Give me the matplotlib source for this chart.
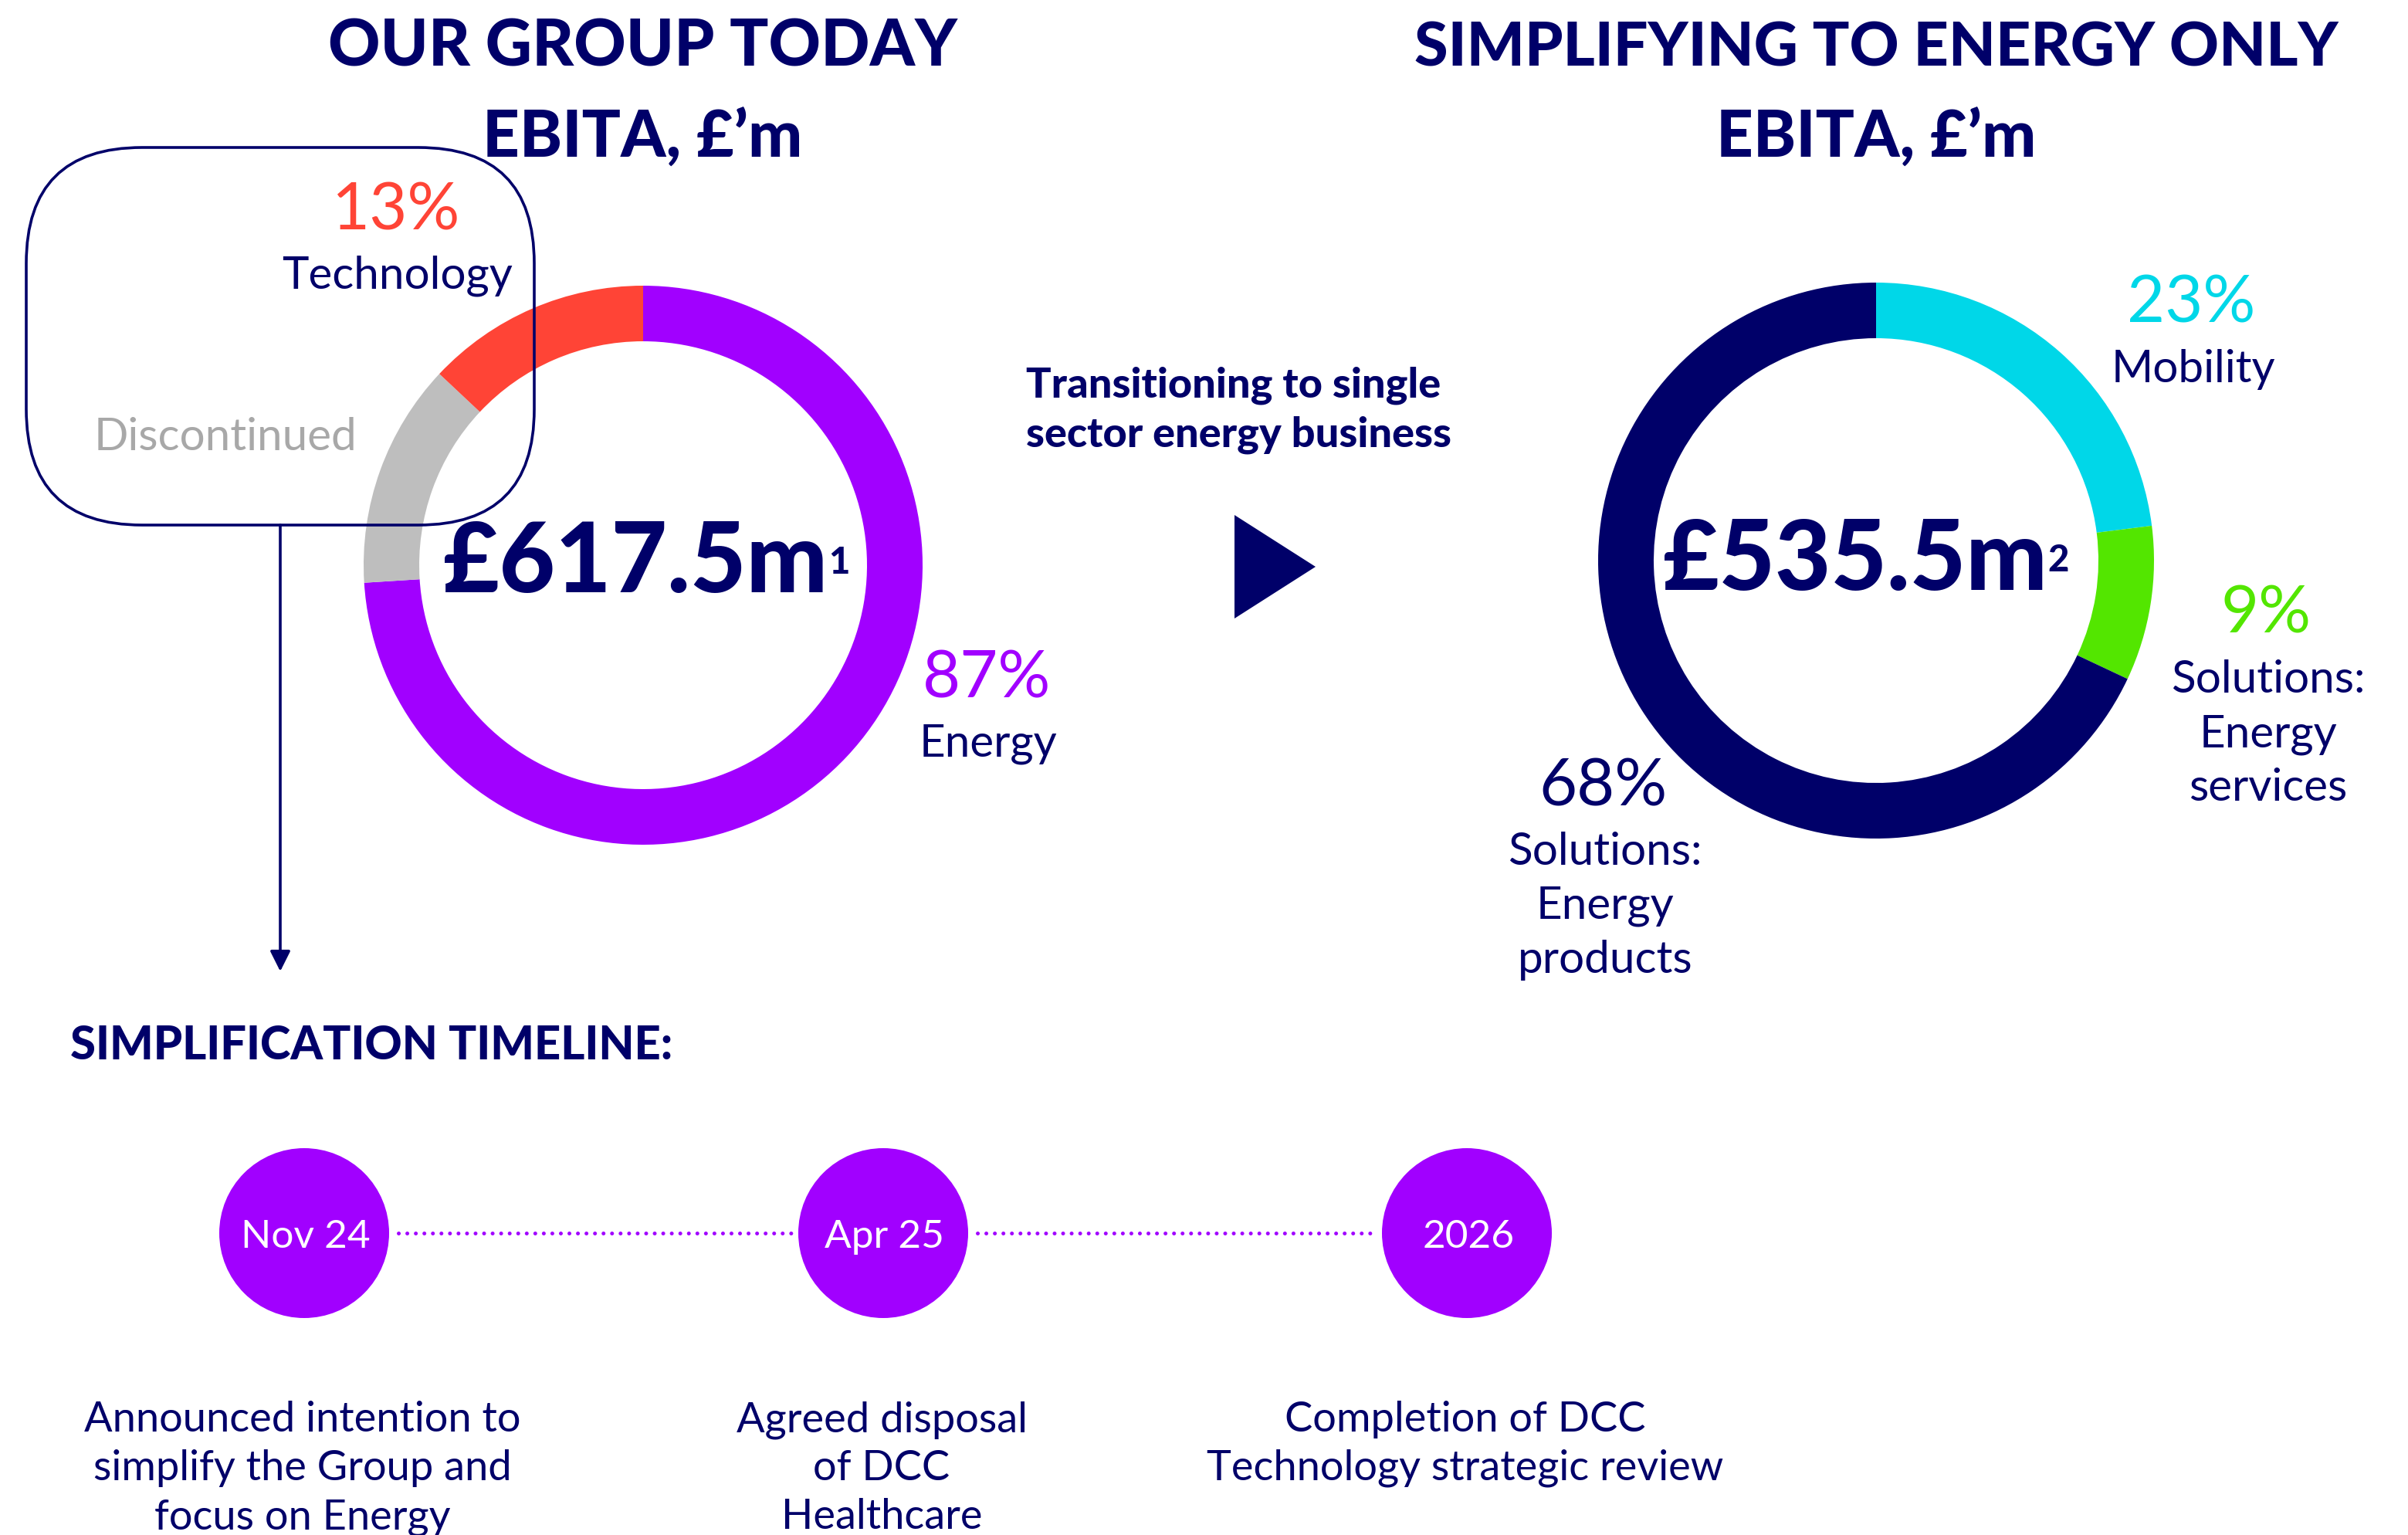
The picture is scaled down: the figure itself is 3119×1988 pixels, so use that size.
import matplotlib.pyplot as plt
from matplotlib.patches import FancyBboxPatch, Polygon, Circle

W, H = 3119, 1988

NAVY = '#000069'
PURPLE = '#A100FF'
RED = '#FF4436'
GREY = '#BEBEBE'
GREY_TXT = '#A8A8A8'
CYAN = '#00D7E8'
GREEN = '#53E600'

# left donut: current group (ring shares)
group_segments = ['Energy', 'Discontinued', 'Technology']
group_share = [74, 13, 13]
group_colors = [PURPLE, GREY, RED]
group_total = '£617.5m'

# right donut: energy only
energy_segments = ['Mobility', 'Solutions: Energy services', 'Solutions: Energy products']
energy_share = [23, 9, 68]
energy_colors = [CYAN, GREEN, NAVY]
energy_total = '£535.5m'

# timeline
timeline_dates = ['Nov 24', 'Apr 25', '2026']
timeline_text = [
    ['Announced intention to', 'simplify the Group and', 'focus on Energy'],
    ['Agreed disposal', 'of DCC', 'Healthcare'],
    ['Completion of DCC', 'Technology strategic review'],
]

plt.rcParams['font.family'] = ['Lato', 'DejaVu Sans']

fig = plt.figure(figsize=(W / 100, H / 100), dpi=100)
ax = fig.add_axes([0, 0, 1, 1])

# donuts (y axis is inverted below, so counterclock=True runs clockwise on screen)
ax.pie(group_share, colors=group_colors, startangle=-90, counterclock=True,
       radius=362, center=(833, 732), wedgeprops=dict(width=72, linewidth=0))
ax.pie(energy_share, colors=energy_colors, startangle=-90, counterclock=True,
       radius=360, center=(2430, 726), wedgeprops=dict(width=72, linewidth=0))

ax.set_xlim(0, W)
ax.set_ylim(H, 0)
ax.set_aspect('equal')
ax.axis('off')

# titles
ax.text(832, 85, 'OUR GROUP TODAY', ha='center', va='baseline', fontsize=60,
        fontweight='black', color=NAVY)
ax.text(2430, 85, 'SIMPLIFYING TO ENERGY ONLY', ha='center', va='baseline', fontsize=57,
        fontweight='black', color=NAVY)
for x in [832, 2430]:
    ax.text(x, 203, 'EBITA, £’m', ha='center', va='baseline', fontsize=60, fontweight='black', color=NAVY)

# rounded box round discontinued + arrow down to timeline
box = FancyBboxPatch((34, 191), 658, 489, boxstyle='round,pad=0,rounding_size=150',
                     fill=False, edgecolor=NAVY, linewidth=2.6)
ax.add_patch(box)
ax.annotate('', xy=(363, 1258), xytext=(363, 680),
            arrowprops=dict(arrowstyle='-|>,head_length=0.8,head_width=0.4', color=NAVY,
                            lw=2.6, mutation_scale=20, shrinkA=0, shrinkB=0))

# segment labels, left
ax.text(512, 297, '13%', ha='center', va='baseline', fontsize=61, color=RED)
ax.text(515, 373, group_segments[2], ha='center', va='baseline', fontsize=42, color=NAVY)
ax.text(292, 583, group_segments[1], ha='center', va='baseline', fontsize=42, color=GREY_TXT)
ax.text(1278, 903, '87%', ha='center', va='baseline', fontsize=61, color=PURPLE)
ax.text(1280, 980, group_segments[0], ha='center', va='baseline', fontsize=42, color=NAVY)

# segment labels, right
ax.text(2838, 418, '23%', ha='center', va='baseline', fontsize=61, color=CYAN)
ax.text(2841, 495, 'Mobility', ha='center', va='baseline', fontsize=42, color=NAVY)
ax.text(2935, 820, '9%', ha='center', va='baseline', fontsize=61, color=GREEN)
for i, line in enumerate(['Solutions:', 'Energy', 'services']):
    ax.text(2938, 897 + 70 * i, line, ha='center', va='baseline', fontsize=42, color=NAVY)
ax.text(2077, 1043, '68%', ha='center', va='baseline', fontsize=61, color=NAVY)
for i, line in enumerate(['Solutions:', 'Energy', 'products']):
    ax.text(2079, 1120 + 70 * i, line, ha='center', va='baseline', fontsize=42, color=NAVY)

# totals with footnote marks
renderer = fig.canvas.get_renderer()
inv = ax.transData.inverted()
for cx, base, total, note in [(823, 767, group_total, '1'), (2403, 764, energy_total, '2')]:
    t = ax.text(cx, base, total, ha='center', va='baseline', fontsize=90,
                fontweight='black', color=NAVY)
    bb = t.get_window_extent(renderer=renderer)
    x_right = inv.transform((bb.x1, bb.y0))[0]
    ax.text(x_right + 1, base - 24, note, ha='left', va='baseline', fontsize=34,
            fontweight='black', color=NAVY)

# middle message and arrow
ax.text(1329, 515, 'Transitioning to single', ha='left', va='baseline', fontsize=39,
        fontweight='black', color=NAVY)
ax.text(1329, 578, 'sector energy business', ha='left', va='baseline', fontsize=39,
        fontweight='black', color=NAVY)
ax.add_patch(Polygon([(1599, 667), (1599, 801), (1704, 734)], closed=True,
                     facecolor=NAVY, edgecolor='none'))

# timeline
ax.text(91, 1372, 'SIMPLIFICATION TIMELINE:', ha='left', va='baseline', fontsize=43,
        fontweight='black', color=NAVY)
tl_x = [394, 1144, 1900]
tl_y = 1597
r = 110
for a, b in zip(tl_x[:-1], tl_x[1:]):
    ax.plot([a + r + 12, b - r - 8], [tl_y, tl_y], color=PURPLE, lw=3.6,
            linestyle=(0, (0.01, 2.2)), dash_capstyle='round')
for x, date, lines in zip(tl_x, timeline_dates, timeline_text):
    ax.add_patch(Circle((x, tl_y), r, facecolor=PURPLE, edgecolor='none'))
    ax.text(x + 2, 1616, date, ha='center', va='baseline', fontsize=37, color='white')
    for i, line in enumerate(lines):
        ax.text(x - 2, 1854 + 63 * i, line, ha='center', va='baseline', fontsize=39, color=NAVY)

fig.savefig('out.png', dpi=100)
